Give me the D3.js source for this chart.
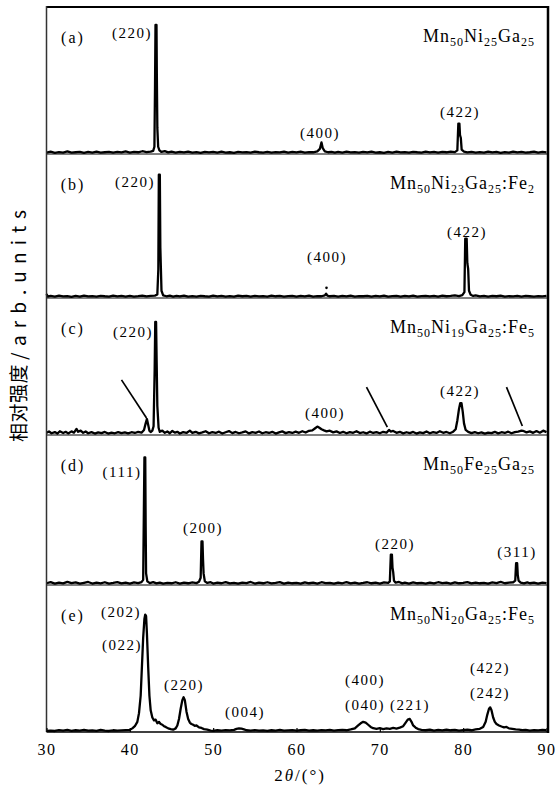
<!DOCTYPE html>
<html lang="zh">
  <head>
    <meta charset="utf-8" />
    <title>XRD patterns</title>
    <style>
      html,
      body {
        margin: 0;
        background: #fff;
      }

      svg {
        display: block;
      }
    </style>
    <script src="https://d3js.org/d3.v7.min.js"></script>
  </head>
  <body>
    <svg width="559" height="788"></svg>

    <script>
      // ---- data (2θ in degrees, intensity in arb. units) ----
      var xTicks = [30, 40, 50, 60, 70, 80, 90];
      var panelIds = ['(a)', '(b)', '(c)', '(d)', '(e)'];

      var compA = [['Mn', '50'], ['Ni', '25'], ['Ga', '25']];
      var compB = [['Mn', '50'], ['Ni', '23'], ['Ga', '25'], [':Fe', '2']];
      var compC = [['Mn', '50'], ['Ni', '19'], ['Ga', '25'], [':Fe', '5']];
      var compD = [['Mn', '50'], ['Fe', '25'], ['Ga', '25']];
      var compE = [['Mn', '50'], ['Ni', '20'], ['Ga', '25'], [':Fe', '5']];

      var patternA = [[30,1.0],[30.5,1.6],[31,0.8],[31.5,1.3],[32,1.0],[32.5,1.8],[33,0.9],[33.5,1.2],[34,1.5],[34.5,0.8],[35,1.4],[35.5,1.0],[36,1.7],[36.5,0.9],[37,1.2],[37.5,1.5],[38,0.9],[38.5,1.4],[39,1.1],[39.5,1.8],[40,1.0],[40.5,1.5],[41,1.2],[41.5,1.9],[42,1.3],[42.5,1.6],[42.8,2.2],[42.95,5],[43.02,45],[43.08,89],[43.2,89],[43.24,55],[43.3,18],[43.4,5],[43.55,2.5],[43.8,1.4],[44.2,2.0],[44.6,1.1],[45,1.6],[45.5,0.9],[46,1.5],[46.5,1.1],[47,1.7],[47.5,1.0],[48,1.3],[48.5,0.8],[49,1.5],[49.5,1.1],[50,1.4],[50.5,0.9],[51,1.6],[51.5,1.0],[52,1.2],[52.5,0.8],[53,1.5],[53.5,1.1],[54,1.3],[54.5,0.9],[55,1.6],[55.5,1.2],[56,1.0],[56.5,1.5],[57,0.9],[57.5,1.3],[58,1.1],[58.5,1.7],[59,1.0],[59.5,1.4],[60,1.1],[60.5,1.6],[61,1.0],[61.5,1.3],[62,1.2],[62.5,1.8],[62.8,3.5],[63.0,8],[63.15,4],[63.4,1.8],[63.8,1.2],[64.2,1.5],[64.6,0.9],[65,1.4],[65.5,1.0],[66,1.6],[66.5,1.1],[67,1.3],[67.5,0.9],[68,1.5],[68.5,1.1],[69,1.7],[69.5,1.0],[70,1.2],[70.5,0.8],[71,1.4],[71.5,1.0],[72,1.6],[72.5,1.1],[73,1.3],[73.5,0.9],[74,1.5],[74.5,1.2],[75,1.0],[75.5,1.6],[76,1.1],[76.5,1.4],[77,0.9],[77.5,1.5],[78,1.2],[78.5,1.7],[79,1.3],[79.3,2.5],[79.42,21],[79.55,21],[79.62,13],[79.72,11],[79.82,3],[80.1,1.6],[80.5,1.1],[81,1.5],[81.5,0.9],[82,1.3],[82.5,1.0],[83,1.6],[83.5,1.1],[84,1.4],[84.5,0.8],[85,1.3],[85.5,1.0],[86,1.7],[86.5,1.1],[87,1.4],[87.5,0.9],[88,1.2],[88.5,1.6],[89,1.0],[89.5,1.4],[90,1.1]];

      var patternB = [[30,2.8],[30.15,1.0],[30.5,1.4],[31,0.9],[31.5,1.6],[32,1.1],[32.5,1.3],[33,0.8],[33.5,1.5],[34,1.0],[34.5,1.7],[35,1.1],[35.5,1.3],[36,0.9],[36.5,1.5],[37,1.2],[37.5,1.0],[38,1.6],[38.5,1.1],[39,1.4],[39.5,0.9],[40,1.5],[40.5,1.0],[41,1.3],[41.5,1.7],[42,1.1],[42.5,1.4],[43,1.6],[43.3,2.5],[43.42,20],[43.48,85],[43.6,85],[43.66,35],[43.72,22],[43.8,5],[44,1.8],[44.4,1.2],[44.8,1.6],[45.2,1.0],[45.6,1.5],[46,1.1],[46.5,1.7],[47,1.0],[47.5,1.3],[48,0.9],[48.5,1.5],[49,1.2],[49.5,1.0],[50,1.6],[50.5,1.1],[51,1.4],[51.5,0.9],[52,1.3],[52.5,1.0],[53,1.6],[53.5,1.2],[54,1.4],[54.5,0.9],[55,1.5],[55.5,1.1],[56,1.3],[56.5,1.0],[57,1.7],[57.5,1.2],[58,1.4],[58.5,1.0],[59,1.3],[59.5,1.5],[60,1.0],[60.5,1.4],[61,1.1],[61.5,1.6],[62,1.0],[62.5,1.3],[63,1.2],[63.4,1.8],[63.55,3.0],[63.7,1.6],[64,1.2],[64.5,1.5],[65,1.0],[65.5,1.4],[66,1.1],[66.5,1.6],[67,1.0],[67.5,1.3],[68,1.2],[68.5,1.5],[69,0.9],[69.5,1.4],[70,1.1],[70.5,1.6],[71,1.0],[71.5,1.3],[72,1.5],[72.5,1.0],[73,1.4],[73.5,1.1],[74,1.6],[74.5,1.0],[75,1.3],[75.5,1.5],[76,1.1],[76.5,1.4],[77,1.0],[77.5,1.6],[78,1.2],[78.5,1.4],[79,1.8],[79.5,1.3],[79.9,2.0],[80.15,4],[80.25,41],[80.42,41],[80.5,24],[80.6,20],[80.7,5],[80.9,2.2],[81.2,1.4],[81.5,1.8],[82,1.1],[82.5,1.5],[83,1.0],[83.5,1.4],[84,1.2],[84.5,1.6],[85,1.0],[85.5,1.3],[86,1.1],[86.5,1.5],[87,1.0],[87.5,1.4],[88,1.2],[88.5,1.0],[89,1.3],[89.5,1.1],[90,1.4]];
      var dotB = [[63.6, 7]];

      var patternC = [[30,1.5],[30.3,2.4],[30.6,1.2],[31,2.0],[31.3,1.0],[31.6,2.6],[32,1.4],[32.3,2.2],[32.6,1.1],[33,2.5],[33.3,1.6],[33.6,4.2],[33.8,2.2],[34.1,3.0],[34.4,1.5],[34.7,2.4],[35,1.2],[35.4,2.0],[35.8,1.0],[36.2,1.8],[36.6,1.3],[37,2.1],[37.4,1.0],[37.8,1.6],[38.2,1.2],[38.6,2.0],[39,1.3],[39.4,1.8],[39.8,1.1],[40.2,1.9],[40.6,1.4],[41,2.2],[41.4,1.6],[41.7,3.5],[41.9,8],[42.05,11],[42.2,7],[42.35,3],[42.5,2.0],[42.7,3],[42.85,6],[42.98,45],[43.05,78],[43.15,78],[43.22,50],[43.3,20],[43.45,5],[43.6,2.2],[43.9,3.0],[44.2,1.5],[44.5,2.4],[44.8,1.2],[45.1,2.8],[45.4,1.6],[45.7,2.2],[46,1.0],[46.4,2.0],[46.8,1.4],[47.2,3.0],[47.5,1.5],[47.9,2.2],[48.3,1.1],[48.7,1.8],[49.1,2.6],[49.5,1.2],[49.9,2.0],[50.3,1.4],[50.7,2.3],[51.1,1.0],[51.5,1.9],[51.9,2.7],[52.3,1.3],[52.7,2.1],[53.1,1.2],[53.5,1.8],[53.9,2.5],[54.3,1.1],[54.7,2.0],[55.1,1.5],[55.5,2.4],[55.9,1.2],[56.3,1.9],[56.7,1.4],[57.1,2.2],[57.5,1.0],[57.9,1.8],[58.3,2.5],[58.7,1.3],[59.1,2.0],[59.5,1.4],[59.9,2.3],[60.3,1.5],[60.7,2.6],[61.1,1.7],[61.5,2.9],[61.9,3.2],[62.2,4.5],[62.5,5.8],[62.7,5.2],[63.0,4.0],[63.3,3.2],[63.6,2.5],[64,3.0],[64.4,1.8],[64.8,2.5],[65.2,1.4],[65.6,2.2],[66,1.2],[66.4,2.0],[66.8,1.5],[67.2,2.6],[67.6,1.3],[68,1.9],[68.4,1.1],[68.8,2.3],[69.2,1.4],[69.6,2.0],[70,1.2],[70.4,2.2],[70.8,1.6],[71.1,3.5],[71.3,2.4],[71.6,2.8],[72,1.5],[72.4,2.2],[72.8,1.1],[73.2,1.9],[73.6,1.3],[74,2.1],[74.4,1.0],[74.8,1.8],[75.2,1.3],[75.6,2.4],[76,1.2],[76.4,2.0],[76.8,1.4],[77.2,2.6],[77.6,1.5],[78,2.1],[78.4,1.2],[78.8,2.3],[79.1,4],[79.3,10],[79.5,18],[79.65,22],[79.8,22],[79.95,16],[80.1,8],[80.3,3.5],[80.6,2.2],[81,1.3],[81.4,2.0],[81.8,1.2],[82.2,1.8],[82.6,1.0],[83,1.7],[83.4,1.3],[83.8,2.2],[84.2,1.1],[84.6,1.9],[85,1.4],[85.4,2.3],[85.8,1.2],[86.2,2.0],[86.6,2.4],[87,3.0],[87.3,2.6],[87.6,1.8],[88,2.5],[88.4,1.5],[88.8,2.7],[89.2,1.6],[89.6,3.0],[90,2.0]];
      // pointer lines in (c): [2θ start, I start, 2θ end, I end]
      var arrowsC = [[39.0, 38, 42.0, 11.7], [68.4, 33, 70.9, 5.5], [85.2, 33, 87.1, 6.2]];

      var patternD = [[30,1.2],[30.5,2.0],[31,0.9],[31.5,1.6],[32,1.1],[32.5,2.2],[33,1.3],[33.5,1.8],[34,0.9],[34.5,1.5],[35,2.1],[35.5,1.0],[36,1.7],[36.5,1.2],[37,1.9],[37.5,0.9],[38,1.4],[38.5,2.0],[39,1.1],[39.5,1.6],[40,1.0],[40.5,1.8],[41,1.3],[41.4,2.0],[41.6,3.5],[41.7,60],[41.75,88],[41.85,88],[41.9,40],[41.95,8],[42.1,2.5],[42.4,1.3],[42.8,2.0],[43.2,1.1],[43.6,1.7],[44,1.0],[44.5,1.5],[45,1.2],[45.5,1.9],[46,1.0],[46.5,1.6],[47,1.2],[47.5,1.8],[48,1.3],[48.3,2.2],[48.5,5],[48.6,30],[48.72,30],[48.78,18],[48.85,8],[49.0,2.5],[49.3,1.4],[49.7,1.9],[50,1.0],[50.5,1.6],[51,1.2],[51.5,2.0],[52,1.1],[52.5,1.5],[53,0.9],[53.5,1.7],[54,1.3],[54.5,2.1],[55,1.0],[55.5,1.6],[56,1.2],[56.5,1.9],[57,1.1],[57.5,1.4],[58,2.0],[58.5,1.0],[59,1.7],[59.5,1.2],[60,1.5],[60.5,0.9],[61,1.8],[61.5,1.2],[62,1.6],[62.5,1.0],[63,1.9],[63.5,1.3],[64,1.5],[64.5,0.9],[65,1.7],[65.5,1.2],[66,2.0],[66.5,1.1],[67,1.6],[67.5,1.0],[68,1.4],[68.5,1.9],[69,1.2],[69.5,1.6],[70,1.0],[70.5,1.8],[71,1.4],[71.2,2.5],[71.32,21],[71.45,21],[71.52,12],[71.6,9],[71.7,3],[71.9,1.6],[72.3,2.1],[72.7,1.1],[73,1.6],[73.5,1.0],[74,1.8],[74.5,1.2],[75,1.5],[75.5,0.9],[76,1.7],[76.5,1.1],[77,1.9],[77.5,1.3],[78,1.6],[78.5,1.0],[79,1.8],[79.5,1.2],[80,1.4],[80.5,2.0],[81,1.1],[81.5,1.7],[82,1.2],[82.5,1.5],[83,1.0],[83.5,1.8],[84,1.3],[84.5,2.1],[85,1.2],[85.5,1.6],[86,1.9],[86.25,3],[86.35,15],[86.48,15],[86.55,7],[86.65,3],[86.9,1.6],[87.3,1.1],[87.7,1.8],[88,1.2],[88.5,1.6],[89,1.0],[89.5,1.7],[90,1.3]];

      var patternE = [[30,0.8],[30.5,1.0],[31,0.7],[31.5,1.3],[32,0.9],[32.5,1.4],[33,0.8],[33.5,1.2],[34,1.0],[34.5,1.5],[35,0.9],[35.5,1.1],[36,0.8],[36.5,1.4],[37,1.0],[37.5,0.7],[38,1.2],[38.5,0.9],[39,1.1],[39.5,1.3],[40,1.5],[40.3,2.5],[40.6,4],[40.9,7],[41.1,13],[41.3,25],[41.45,45],[41.6,65],[41.75,78],[41.85,81],[41.95,80],[42.05,68],[42.2,45],[42.35,25],[42.5,15],[42.7,10],[42.9,8],[43.1,8.5],[43.3,6],[43.5,7],[43.7,5.5],[43.9,5],[44.1,4],[44.3,3.5],[44.6,2.5],[44.9,2],[45.2,1.6],[45.5,2.5],[45.7,4.5],[45.9,9],[46.1,16],[46.3,22],[46.45,24],[46.6,22],[46.8,14],[47.0,9],[47.2,6.5],[47.4,5.5],[47.6,5],[47.8,4.2],[48.0,4.5],[48.3,3.2],[48.6,2.8],[48.9,2.0],[49.3,1.6],[49.7,1.0],[50,0.8],[50.5,1.2],[51,0.9],[51.5,1.3],[52,1.1],[52.5,1.5],[52.8,2.2],[53.1,2.5],[53.4,2.3],[53.7,1.8],[54,1.2],[54.5,1.0],[55,1.3],[55.5,0.9],[56,1.1],[56.5,0.8],[57,1.2],[57.5,1.0],[58,1.4],[58.5,0.9],[59,1.1],[59.5,1.3],[60,0.9],[60.5,1.2],[61,1.5],[61.5,1.0],[62,1.2],[62.5,0.9],[63,1.3],[63.5,1.1],[64,1.4],[64.5,1.0],[65,1.3],[65.5,1.5],[66,1.2],[66.5,1.8],[67,2.5],[67.4,4.5],[67.7,6],[68.0,7],[68.3,6.5],[68.6,5],[68.9,3.5],[69.2,2.6],[69.6,2.2],[70,2.6],[70.4,2.0],[70.8,2.5],[71.2,2.2],[71.6,2.8],[72,2.4],[72.4,3.0],[72.8,4],[73.1,6.5],[73.35,8.5],[73.6,9],[73.8,7],[74.0,4.5],[74.3,3],[74.6,2],[75,1.5],[75.5,1.2],[76,1.6],[76.5,1.0],[77,1.4],[77.5,1.1],[78,1.7],[78.5,1.2],[79,1.5],[79.5,1.0],[80,1.3],[80.5,1.6],[81,1.2],[81.5,1.8],[82,2.2],[82.4,3.5],[82.7,7],[82.9,12],[83.1,16],[83.25,17],[83.4,15],[83.6,10],[83.8,7],[84.0,5.5],[84.3,4.5],[84.6,3.8],[84.9,3.2],[85.2,3.5],[85.5,2.5],[85.9,2.2],[86.3,1.8],[86.7,1.6],[87.1,1.3],[87.5,1.5],[88,1.0],[88.5,1.3],[89,1.1],[89.5,1.4],[90,1.2]];

      // peak labels: [hkl, 2θ, intensity level]
      var labelsA = [['(220)', 40.26, 83.4], ['(400)', 62.82, 14.5], ['(422)', 79.62, 29]];
      var labelsB = [['(220)', 40.62, 80], ['(400)', 63.66, 28.3], ['(422)', 80.46, 45.5]];
      var labelsC = [['(220)', 40.38, 71], ['(400)', 63.42, 15.2], ['(422)', 79.62, 30.3]];
      var labelsD = [['(111)', 39.06, 78], ['(200)', 48.78, 39.3], ['(220)', 71.82, 28.3], ['(311)', 86.46, 22.8]];
      var labelsE = [['(202)', 38.94, 82.8], ['(022)', 39.06, 60], ['(220)', 46.5, 32.4], ['(004)', 53.82, 13.8],
        ['(400)', 68.22, 35.9], ['(040)', 68.22, 18.6], ['(221)', 73.62, 18.6], ['(422)', 83.22, 44.1], ['(242)', 83.22, 26.9]];

      // ---- layout ----
      var serif = '"Liberation Serif", "DejaVu Serif", serif';
      var svg = d3.select('svg');
      var left = 46.5, right = 548;
      var edges = [7, 154, 298, 435, 585, 732];

      var x = d3.scaleLinear().domain([30, 90]).range([left, 546.5]);

      var panels = [
        { pattern: patternA, comp: compA, labels: labelsA },
        { pattern: patternB, comp: compB, labels: labelsB, dots: dotB },
        { pattern: patternC, comp: compC, labels: labelsC, arrows: arrowsC },
        { pattern: patternD, comp: compD, labels: labelsD },
        { pattern: patternE, comp: compE, labels: labelsE }
      ];

      var line = d3.line()
        .x(function(d) { return x(d[0]); });

      panels.forEach(function(p, i) {
        var top = edges[i], bottom = edges[i + 1];
        var y = d3.scaleLinear().domain([0, 100]).range([bottom, bottom - 145]);
        var g = svg.append('g');

        g.append('path')
          .datum(p.pattern)
          .attr('fill', 'none')
          .attr('stroke', '#000')
          .attr('stroke-width', 2.3)
          .attr('stroke-linejoin', 'round')
          .attr('d', line.y(function(d) { return y(d[1]); }));

        if (p.dots) {
          g.selectAll('circle').data(p.dots).enter().append('circle')
            .attr('cx', function(d) { return x(d[0]); })
            .attr('cy', function(d) { return y(d[1]); })
            .attr('r', 1.3);
        }

        if (p.arrows) {
          g.selectAll('line.ptr').data(p.arrows).enter().append('line')
            .attr('class', 'ptr')
            .attr('x1', function(d) { return x(d[0]); })
            .attr('y1', function(d) { return y(d[1]); })
            .attr('x2', function(d) { return x(d[2]); })
            .attr('y2', function(d) { return y(d[3]); })
            .attr('stroke', '#000')
            .attr('stroke-width', 1.7);
        }

        g.selectAll('text.hkl').data(p.labels).enter().append('text')
          .attr('class', 'hkl')
          .attr('x', function(d) { return x(d[1]); })
          .attr('y', function(d) { return y(d[2]); })
          .attr('dy', '0.35em')
          .attr('text-anchor', 'middle')
          .attr('font-family', serif)
          .attr('font-size', 15)
          .attr('letter-spacing', 1.5)
          .text(function(d) { return d[0]; });

        g.append('text')
          .attr('x', 73)
          .attr('y', top + 30)
          .attr('dy', '0.35em')
          .attr('text-anchor', 'middle')
          .attr('font-family', serif)
          .attr('font-size', 16)
          .attr('letter-spacing', 2)
          .text(panelIds[i]);

        var comp = g.append('text')
          .attr('x', 535)
          .attr('y', top + 35)
          .attr('text-anchor', 'end')
          .attr('font-family', serif)
          .attr('letter-spacing', 1);
        p.comp.forEach(function(c, k) {
          comp.append('tspan')
            .attr('font-size', 18)
            .attr('dy', k === 0 ? 0 : -4)
            .text(c[0]);
          comp.append('tspan')
            .attr('font-size', 12)
            .attr('dy', 4)
            .text(c[1]);
        });
      });

      // panel separators
      svg.append('g').selectAll('line').data(edges.slice(1, -1)).enter().append('line')
        .attr('x1', left).attr('x2', right)
        .attr('y1', function(d) { return d; }).attr('y2', function(d) { return d; })
        .attr('stroke', '#000')
        .attr('stroke-width', 1);

      // frame
      svg.append('line').attr('x1', left).attr('x2', right).attr('y1', 7).attr('y2', 7)
        .attr('stroke', '#000').attr('stroke-width', 2);
      svg.append('line').attr('x1', left).attr('x2', left).attr('y1', 6).attr('y2', 732)
        .attr('stroke', '#333').attr('stroke-width', 1.5);
      svg.append('line').attr('x1', right).attr('x2', right).attr('y1', 6).attr('y2', 733)
        .attr('stroke', '#000').attr('stroke-width', 2.5);

      // x axis
      var xAxis = svg.append('g')
        .attr('transform', 'translate(0,732)')
        .call(d3.axisBottom(x).tickValues(xTicks).tickSize(-4).tickPadding(12));
      xAxis.select('.domain').attr('stroke-width', 1.5).attr('d', 'M' + left + ',0H' + right);
      xAxis.selectAll('.tick line').attr('stroke-width', 1.2);
      xAxis.selectAll('text')
        .attr('font-family', serif)
        .attr('font-size', 16)
        .attr('letter-spacing', 1.5)
        .attr('fill', '#000');

      var xTitle = svg.append('text')
        .attr('x', 300)
        .attr('y', 781)
        .attr('text-anchor', 'middle')
        .attr('font-family', serif)
        .attr('font-size', 17)
        .attr('letter-spacing', 2);
      xTitle.append('tspan').text('2');
      xTitle.append('tspan').attr('font-style', 'italic').text('θ');
      xTitle.append('tspan').text('/(°)');

      // y title: Chinese part, then the unit part stretched to the reference length
      var yTitle = svg.append('g')
        .attr('transform', 'translate(26,0) rotate(-90)')
        .attr('font-family', '"Noto Sans CJK SC", "Noto Sans", sans-serif')
        .attr('fill', '#000');
      yTitle.append('text')
        .attr('x', -442)
        .attr('font-size', 19)
        .attr('letter-spacing', 0.5)
        .text('相对强度');
      yTitle.append('text')
        .attr('x', -360)
        .attr('font-size', 19)
        .attr('textLength', 150)
        .attr('lengthAdjust', 'spacing')
        .text('/arb.units');
    </script>
  </body>
</html>
